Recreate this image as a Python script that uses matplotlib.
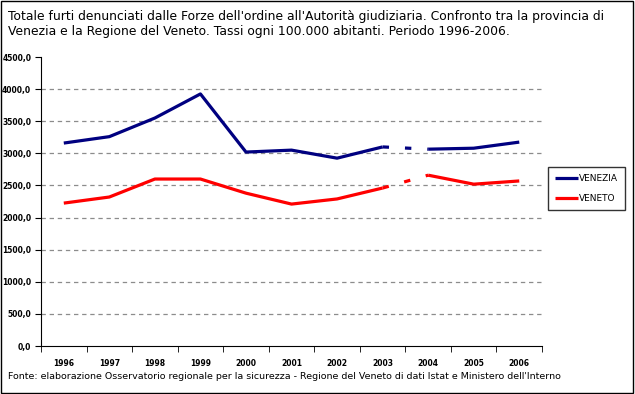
import matplotlib.pyplot as plt
from matplotlib.patches import Rectangle
from matplotlib.ticker import FixedLocator, FuncFormatter

years = ['1996', '1997', '1998', '1999', '2000', '2001', '2002', '2003', '2004', '2005', '2006']
venezia = [3160, 3260, 3550, 3925, 3020, 3050, 2925, 3100, 3065, 3080, 3175]
veneto = [2225, 2320, 2600, 2600, 2380, 2210, 2290, 2460, 2660, 2520, 2570]

title = ("Totale furti denunciati dalle Forze dell'ordine all'Autorità giudiziaria. Confronto tra la provincia di\n"
         "Venezia e la Regione del Veneto. Tassi ogni 100.000 abitanti. Periodo 1996-2006.")
source = ("Fonte: elaborazione Osservatorio regionale per la sicurezza - Regione del Veneto di dati Istat e "
          "Ministero dell'Interno")

fig = plt.figure(figsize=(6.35, 3.94), dpi=100)
fig.patches.append(Rectangle((0.002, 0.003), 0.995, 0.994, transform=fig.transFigure,
                             fill=False, edgecolor='black', linewidth=1))
ax = fig.add_axes([0.0646, 0.1218, 0.789, 0.7335])

x = list(range(len(years)))
for vals, col, name in [(venezia, '#000080', 'VENEZIA'), (veneto, '#FF0000', 'VENETO')]:
    ax.plot(x[:8], vals[:8], color=col, linewidth=2.3, solid_capstyle='butt', label=name)
    ax.plot(x[7:9], vals[7:9], color=col, linewidth=2.3, linestyle=(0, (2, 5)))
    ax.plot(x[8:], vals[8:], color=col, linewidth=2.3, solid_capstyle='butt')

ax.set_xlim(-0.5, len(years) - 0.5)
ax.set_ylim(0, 4500)
ax.set_yticks(range(0, 4501, 500))
ax.yaxis.set_major_formatter(FuncFormatter(lambda v, p: f"{v:.1f}".replace('.', ',')))
ax.set_xticks(x)
ax.set_xticklabels(years)
ax.xaxis.set_minor_locator(FixedLocator([i - 0.5 for i in range(len(years) + 1)]))
ax.tick_params(axis='x', which='major', length=0, pad=9, labelsize=5.5)
ax.tick_params(axis='x', which='minor', length=4, direction='out')
ax.tick_params(axis='y', length=4, direction='out', labelsize=5.5, pad=3)
for lab in ax.get_xticklabels() + ax.get_yticklabels():
    lab.set_fontweight('bold')

for v in range(500, 4001, 500):
    ax.axhline(v, color='#8c8c8c', linewidth=0.9, linestyle=(0, (3.5, 3)), zorder=0)

ax.spines['top'].set_visible(False)
ax.spines['right'].set_visible(False)

leg = ax.legend(loc='center left', bbox_to_anchor=(1.003, 0.545), fontsize=6.5,
                frameon=True, fancybox=False, edgecolor='black', handlelength=2.5,
                handletextpad=0.1, borderpad=0.8, labelspacing=1.2)
leg.get_frame().set_linewidth(1)

fig.text(0.013, 0.975, title, fontsize=8.9, va='top', ha='left', linespacing=1.25)
fig.text(0.013, 0.033, source, fontsize=6.8, va='bottom', ha='left')

fig.savefig('out.png', dpi=100)
